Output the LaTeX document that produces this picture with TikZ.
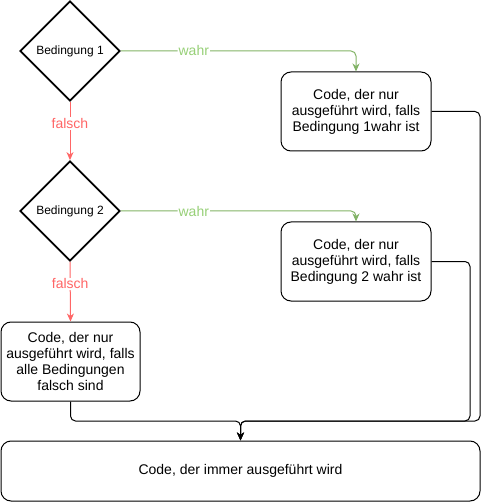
\documentclass[tikz,border=0pt]{standalone}
\usepackage{fontspec}
\setmainfont{Liberation Sans}
\usetikzlibrary{shapes.geometric,arrows.meta}
\definecolor{wahrline}{HTML}{82B366}
\definecolor{wahrtext}{HTML}{97D077}
\definecolor{falschred}{HTML}{FF6666}

\begin{document}
\begin{tikzpicture}[x=1pt,y=-1pt,line width=1pt]
	\tikzstyle{cond} = [diamond, draw, line width=1.8pt, aspect=1, minimum width=100pt, minimum height=100pt, inner sep=0pt, fill=white, font=\fontsize{12}{14}\selectfont]
	\tikzstyle{code} = [rectangle, draw, rounded corners=10pt, minimum width=150pt, minimum height=79pt, align=center, fill=white, font=\fontsize{14}{16}\selectfont]
	\tikzstyle{wahr_edge} = [draw=wahrline, rounded corners=5pt, ->, >={Stealth[length=8pt,width=7pt,inset=2.5pt]}]
	\tikzstyle{falsch_edge} = [draw=falschred, ->, >={Stealth[length=8pt,width=7pt,inset=2.5pt]}]
	\tikzstyle{edge} = [draw, rounded corners=5pt, ->, >={Stealth[length=8pt,width=7pt,inset=2.5pt]}]
	\tikzstyle{edge_label} = [fill=white, inner sep=1pt, font=\fontsize{14}{16}\selectfont]
\useasboundingbox (0,0) rectangle (489,502);

%conditions
\foreach \name/\y/\txt in {b_1/51/Bedingung 1, b_2/211/Bedingung 2}
	\node[cond] (\name) at (70, \y) {\txt};

%code blocks
\node[code] (c_1) at (356, 111.5) {Code, der nur\\ausgeführt wird, falls\\Bedingung 1wahr ist};
\node[code] (c_2) at (356, 261.5) {Code, der nur\\ausgeführt wird, falls\\Bedingung 2 wahr ist};
\node[code, minimum width=139pt] (c_3) at (70.5, 361.5) {Code, der nur\\ausgeführt wird, falls\\alle Bedingungen\\falsch sind};
\node[code, minimum width=479pt, minimum height=60pt] (end) at (240.5, 471) {Code, der immer ausgeführt wird};

%wahr / falsch
\foreach \from/\to in {b_1/c_1, b_2/c_2}
	\draw[wahr_edge] (\from.east) -| (\to.north) node[edge_label, text=wahrtext, pos=0.155] {wahr};
\foreach \from/\to in {b_1/b_2, b_2/c_3}
	\draw[falsch_edge] (\from.south) -- (\to.north) node[edge_label, text=falschred, pos=0.37] {falsch};

%back together
\coordinate (merge) at (240.5, 421);
\coordinate (j_1) at (480, 421);
\coordinate (j_2) at (470, 421);
\draw[edge] (c_1.east) -| (j_1) -- (merge) -- (end.north);
\draw[edge] (c_2.east) -| (j_2) -- (merge) -- (end.north);
\draw[edge] (c_3.south) |- (merge) -- (end.north);
\end{tikzpicture}
\end{document}
